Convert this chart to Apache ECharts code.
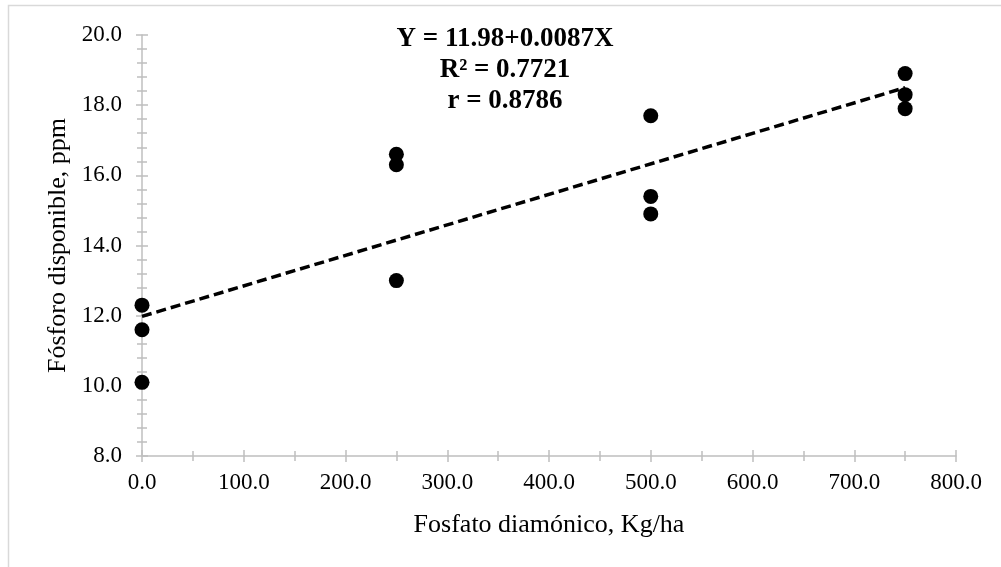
<!DOCTYPE html>
<html>
<head>
<meta charset="utf-8">
<script src="https://cdn.jsdelivr.net/npm/echarts@6/dist/echarts.min.js"></script>
<style>
  html, body { margin: 0; padding: 0; background: #fff; }
  #chart { width: 1001px; height: 567px; }
</style>
</head>
<body>
<div id="chart"></div>
<script>
// datos
const dosis = [0, 0, 0, 250, 250, 250, 500, 500, 500, 750, 750, 750];
const fosforo = [12.3, 11.6, 10.1, 16.6, 16.3, 13.0, 17.7, 15.4, 14.9, 18.9, 18.3, 17.9];
// extremos de la linea de tendencia
const trendX = [0, 750];
const trendY = [11.98, 18.5];
const eqLines = ['Y = 11.98+0.0087X', 'R² = 0.7721', 'r = 0.8786'];

const font = 'Liberation Serif, Times New Roman, serif';
const axisColor = '#bfbfbf';

const chart = echarts.init(document.getElementById('chart'));

const xBase = {
  type: 'value', min: 0, max: 800, interval: 100,
  position: 'bottom', gridIndex: 0,
  splitLine: { show: false }
};
const yBase = {
  type: 'value', min: 8, max: 20, interval: 2,
  position: 'left', gridIndex: 0,
  splitLine: { show: false }
};

const option = {
  backgroundColor: '#fff',
  animation: false,
  grid: { left: 142, right: 45, top: 35, bottom: 111 },
  graphic: [
    {
      type: 'rect', silent: true,
      shape: { x: 8.5, y: 5.5, width: 1100, height: 700 },
      style: { fill: 'none', stroke: '#d9d9d9', lineWidth: 1.5 }
    }
  ].concat(eqLines.map((t, i) => ({
    type: 'text', silent: true,
    style: {
      text: t, x: 505, y: 39 + i * 31,
      textAlign: 'center', textVerticalAlign: 'middle',
      font: 'bold 27px ' + font, fill: '#000'
    }
  }))),
  xAxis: [
    Object.assign({}, xBase, {
      name: 'Fosfato diamónico, Kg/ha',
      nameLocation: 'middle', nameGap: 56,
      nameTextStyle: { fontFamily: font, fontSize: 26, color: '#000' },
      axisLine: { show: true, lineStyle: { color: axisColor, width: 1.5 } },
      axisTick: { show: true, inside: false, length: 6, lineStyle: { color: axisColor, width: 1.5 } },
      minorTick: { show: true, splitNumber: 2, length: 5, lineStyle: { color: axisColor, width: 1.5 } },
      axisLabel: {
        margin: 15, fontFamily: font, fontSize: 23, color: '#000',
        formatter: v => v.toFixed(1)
      }
    }),
    Object.assign({}, xBase, {
      axisLine: { show: false },
      axisTick: { show: true, inside: true, length: 6, lineStyle: { color: axisColor, width: 1.5 } },
      minorTick: { show: true, splitNumber: 2, length: 5, lineStyle: { color: axisColor, width: 1.5 } },
      axisLabel: { show: false }
    })
  ],
  yAxis: [
    Object.assign({}, yBase, {
      name: 'Fósforo disponible, ppm',
      nameLocation: 'middle', nameGap: 69,
      nameTextStyle: { fontFamily: font, fontSize: 26, color: '#000' },
      axisLine: { show: true, lineStyle: { color: axisColor, width: 1.5 } },
      axisTick: { show: true, inside: false, length: 6, lineStyle: { color: axisColor, width: 1.5 } },
      minorTick: { show: true, splitNumber: 5, length: 5, lineStyle: { color: axisColor, width: 1.5 } },
      axisLabel: {
        margin: 20, fontFamily: font, fontSize: 23, color: '#000',
        formatter: v => v.toFixed(1)
      }
    }),
    Object.assign({}, yBase, {
      axisLine: { show: false },
      axisTick: { show: true, inside: true, length: 6, lineStyle: { color: axisColor, width: 1.5 } },
      minorTick: { show: true, splitNumber: 5, length: 5, lineStyle: { color: axisColor, width: 1.5 } },
      axisLabel: { show: false }
    })
  ],
  series: [
    {
      name: 'tendencia', type: 'line',
      data: trendX.map((x, i) => [x, trendY[i]]),
      symbol: 'none', silent: true, z: 2,
      lineStyle: { color: '#000', width: 3.5, type: [10, 5] }
    },
    {
      name: 'Fósforo', type: 'scatter',
      data: dosis.map((x, i) => [x, fosforo[i]]),
      symbol: 'circle', symbolSize: 15, z: 3,
      itemStyle: { color: '#000', opacity: 1 }
    }
  ]
};

chart.setOption(option);
</script>
</body>
</html>
